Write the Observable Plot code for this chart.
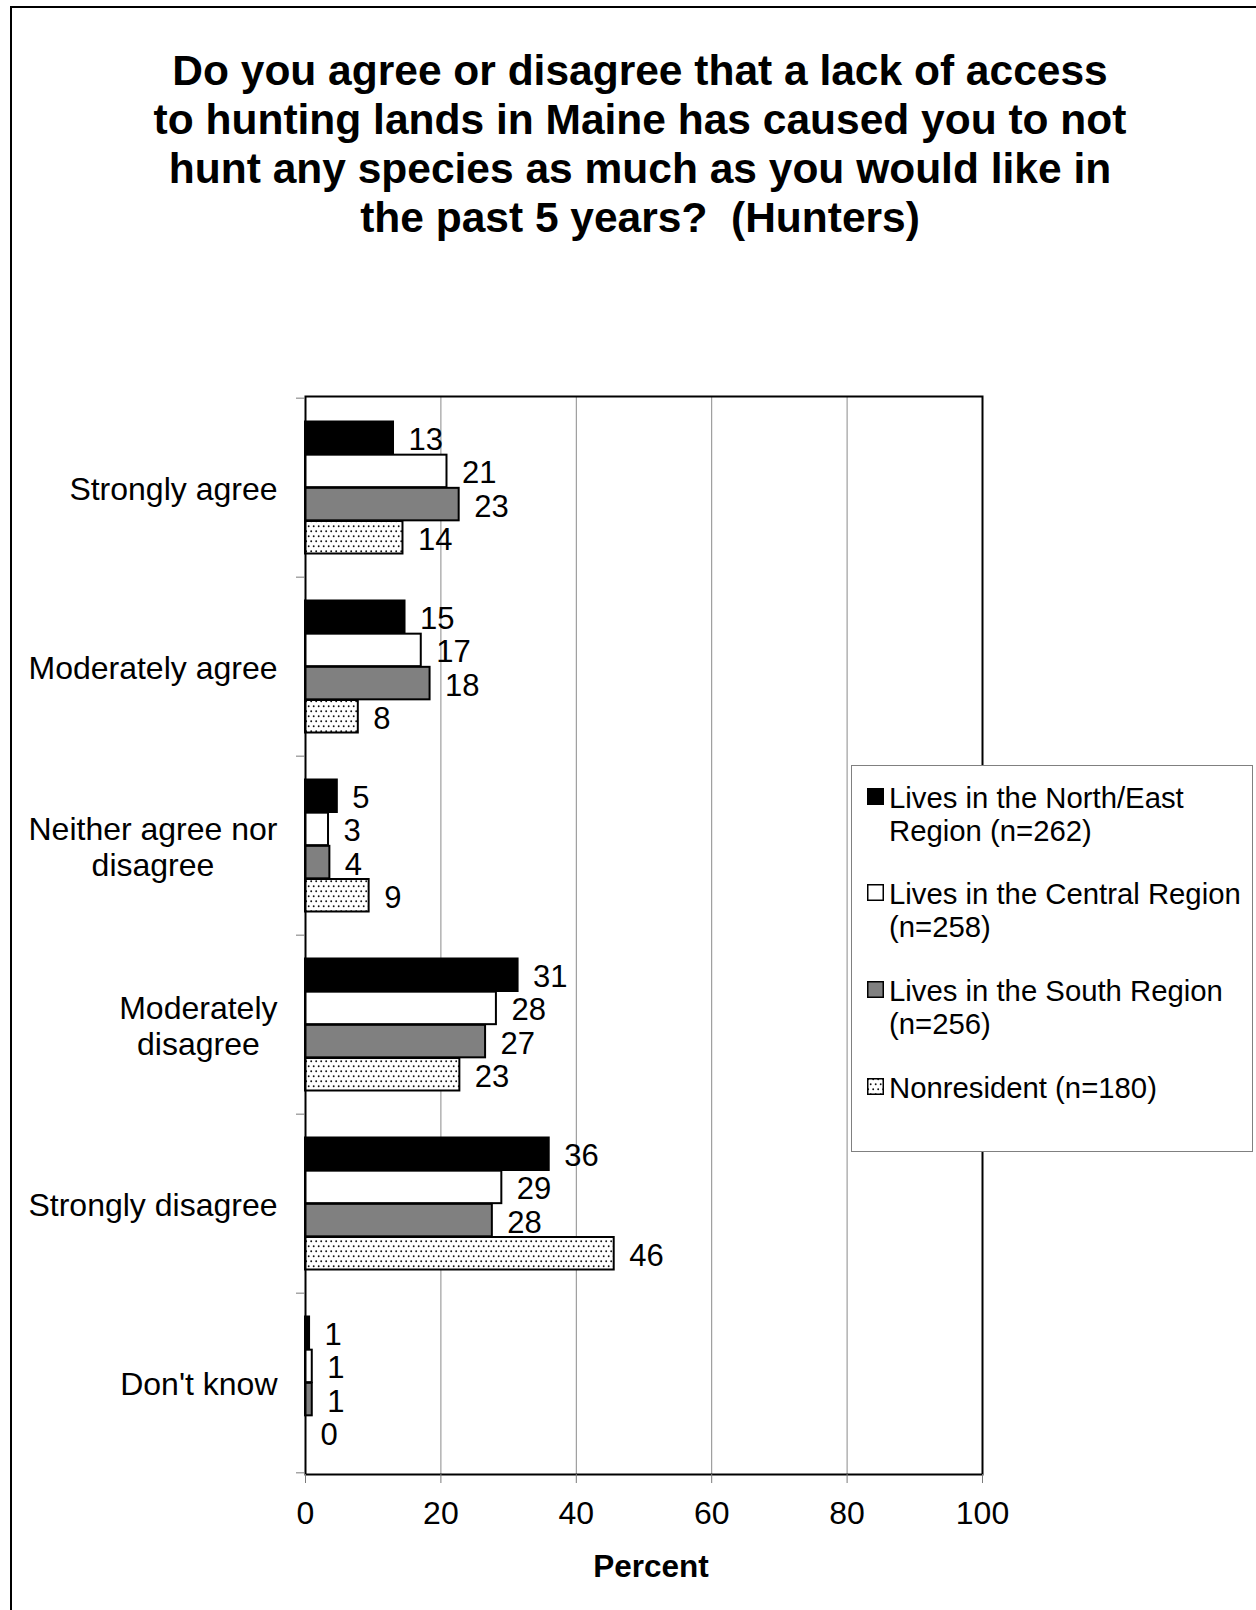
<!DOCTYPE html>
<html>
<head>
<meta charset="utf-8">
<script src="https://cdn.jsdelivr.net/npm/d3@7"></script>
<script src="https://cdn.jsdelivr.net/npm/@observablehq/plot@0.6"></script>
<style>
  body { margin: 0; background: #fff; font-family: "Liberation Sans", Arial, sans-serif; }
  #wrap { position: relative; width: 1256px; height: 1610px; overflow: hidden; background: #fff; }
  #chart { position: absolute; left: 0; top: 0; }
  #border { position: absolute; left: 10px; top: 6px; width: 1300px; height: 1700px; border: 2px solid #000; box-sizing: border-box; pointer-events: none; }
  #title { position: absolute; left: 0; top: 46px; width: 1280px; text-align: center; font-weight: bold; font-size: 42.5px; line-height: 49px; color: #000; }
  #legend { position: absolute; left: 851px; top: 765px; width: 402px; height: 387px; border: 1px solid #808080; background: #fff; box-sizing: border-box; }
  .item { position: absolute; left: 37px; font-size: 29.3px; line-height: 33px; white-space: nowrap; color: #000; }
  .sw { position: absolute; left: -22px; top: 7px; }
</style>
</head>
<body>
<svg width="0" height="0" style="position:absolute">
  <defs>
    <pattern id="dots" width="10" height="10" patternUnits="userSpaceOnUse">
      <rect width="10" height="10" fill="#fff"/>
      <circle cx="1.2" cy="1.2" r="0.95" fill="#111"/>
      <circle cx="6.2" cy="1.2" r="0.95" fill="#111"/>
      <circle cx="3.7" cy="6.2" r="0.95" fill="#111"/>
      <circle cx="8.7" cy="6.2" r="0.95" fill="#111"/>
    </pattern>
  </defs>
</svg>
<div id="wrap">
  <div id="chart"></div>
  <div id="border"></div>
  <div id="title">Do you agree or disagree that a lack of access<br>to hunting lands in Maine has caused you to not<br>hunt any species as much as you would like in<br>the past 5 years?&nbsp; (Hunters)</div>
  <div id="legend"></div>
</div>
<script>
// ---- data ----
const categories = ["Strongly agree", "Moderately agree", "Neither agree nor disagree", "Moderately disagree", "Strongly disagree", "Don't know"];
const categoryLabels = ["Strongly agree", "Moderately agree", "Neither agree nor\ndisagree", "Moderately\ndisagree", "Strongly disagree", "Don't know"];
const seriesNames = ["Lives in the North/East Region (n=262)", "Lives in the Central Region (n=258)", "Lives in the South Region (n=256)", "Nonresident (n=180)"];
const legendLines = [["Lives in the North/East", "Region (n=262)"], ["Lives in the Central Region", "(n=258)"], ["Lives in the South Region", "(n=256)"], ["Nonresident (n=180)"]];
const northEast   = [13.0, 14.7, 4.7, 31.4, 36.0, 0.6];
const central     = [20.9, 17.1, 3.4, 28.2, 29.0, 1.0];
const south       = [22.7, 18.4, 3.6, 26.6, 27.6, 1.0];
const nonresident = [14.4, 7.8, 9.4, 22.8, 45.6, 0.0];
const xTicks = [0, 20, 40, 60, 80, 100];
const seriesFills = ["#000000", "#ffffff", "#808080", "url(#dots)"];

const seriesValues = [northEast, central, south, nonresident];
const rows = [];
seriesNames.forEach((s, j) => categories.forEach((c, i) => rows.push({series: s, category: c, value: seriesValues[j][i]})));

// ---- layout ----
const W = 1256, H = 1610, mL = 305, mR = 274, mT = 396, mB = 136;
const band = (H - mT - mB) / categories.length;
const pad = 23.5;
const barH = (band - 2 * pad) / seriesNames.length;
const catFont = 32;

const ctx = document.createElement("canvas").getContext("2d");
ctx.font = catFont + "px 'Liberation Sans'";
const labelWidth = (t) => Math.max(...t.split("\n").map((l) => ctx.measureText(l).width));

const marks = [
  Plot.gridX(xTicks.slice(1, -1), {stroke: "#8a8a8a", strokeOpacity: 1, strokeWidth: 1}),
  ...seriesNames.map((s, j) => Plot.barX(rows.filter((r) => r.series === s), {
    y: "category", x: "value", fill: seriesFills[j], stroke: "#000", strokeWidth: 2,
    insetTop: pad + j * barH, insetBottom: band - pad - (j + 1) * barH
  })),
  Plot.frame({stroke: "#000", strokeWidth: 2}),
  Plot.axisX({ticks: xTicks, tickSize: 9, tickPadding: 18, fontSize: 32, stroke: "#7a7a7a", label: null}),
  Plot.axisY({ticks: categories, tickSize: 9, dy: -band / 2, tickFormat: () => "", stroke: "#7a7a7a", label: null}),
  Plot.axisY({ticks: [categories[categories.length - 1]], tickSize: 9, dy: band / 2, tickFormat: () => "", stroke: "#7a7a7a", label: null}),
  ...categories.map((c, i) => Plot.text([c], {
    y: (d) => d, text: () => categoryLabels[i], frameAnchor: "left", textAnchor: "middle",
    dx: -(28 + labelWidth(categoryLabels[i]) / 2), fontSize: catFont, lineHeight: 1.13, fill: "#000"
  })),
  ...seriesNames.map((s, j) => Plot.text(rows.filter((r) => r.series === s), {
    y: "category", x: "value", text: (d) => String(Math.round(d.value)),
    textAnchor: "start", dx: 15, dy: -band / 2 + pad + (j + 0.5) * barH + 2, fontSize: 31, fill: "#000"
  })),
  Plot.text(["Percent"], {text: (d) => d, frameAnchor: "bottom", dx: 7, dy: 102, fontSize: 31.5, fontWeight: "bold", fill: "#000"})
];

const chart = Plot.plot({
  width: W, height: H,
  marginLeft: mL, marginRight: mR, marginTop: mT, marginBottom: mB,
  x: {domain: [0, 100]},
  y: {domain: categories, padding: 0},
  style: {fontFamily: "'Liberation Sans', Arial, sans-serif", background: "transparent", color: "#000", overflow: "visible"},
  marks
});
document.getElementById("chart").appendChild(chart);

// ---- legend ----
const legend = document.getElementById("legend");
const itemTops = [14.5, 111.2, 207.9, 304.6];
seriesNames.forEach((s, j) => {
  const div = document.createElement("div");
  div.className = "item";
  div.style.top = itemTops[j] + "px";
  div.innerHTML = `<svg class="sw" width="17" height="17"><rect x="0.75" y="0.75" width="15.5" height="15.5" fill="${seriesFills[j]}" stroke="#000" stroke-width="1.5"/></svg>` + legendLines[j].join("<br>");
  legend.appendChild(div);
});
</script>
</body>
</html>
